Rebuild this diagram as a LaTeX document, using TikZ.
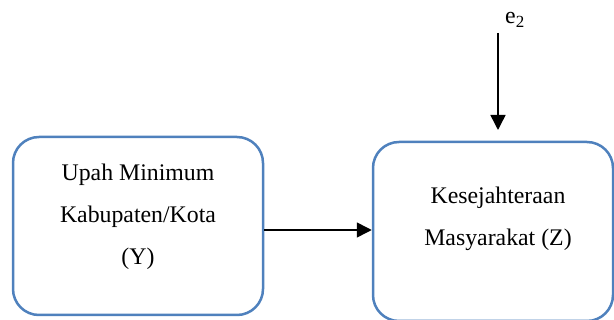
\documentclass[tikz,border=0pt]{standalone}
\usepackage{fontspec}
\setmainfont{Liberation Serif}
\usetikzlibrary{arrows.meta}
\definecolor{boxblue}{HTML}{4F81BD}
\tikzset{
  varbox/.style={draw=boxblue, line width=2.5pt, rounded corners=26pt, minimum height=178pt, inner sep=0pt},
  boxtext/.style={align=center, font=\fontsize{23.8}{42}\selectfont, inner sep=0pt},
  conn/.style={line width=1.5pt, -{Triangle[length=15pt,width=15pt]}}
}
\begin{document}
\begin{tikzpicture}[x=1pt,y=-1pt]
\useasboundingbox (0,0) rectangle (614,320);
\clip (0,0) rectangle (614,320);
\node[varbox, minimum width=250pt] (y) at (138,226) {};
\node[varbox, minimum width=240pt, minimum height=179pt] (z) at (493,231.5) {};
\node[boxtext] (ytxt) at (138,217) {Upah Minimum\\Kabupaten/Kota\\(Y)};
\node[boxtext] (ztxt) at (498,219) {Kesejahteraan\\Masyarakat (Z)};
\node[font=\fontsize{23.8}{28}\selectfont, inner sep=0pt, anchor=base west] (e) at (505,24) {e\raisebox{-3.5pt}{\fontsize{17}{17}\selectfont 2}};
\coordinate (etop) at (498,33);
\coordinate (ztop) at (498,130);
\draw[conn] (etop) -- (ztop);
\draw[conn] (y.east |- 0,230) -- (z.west |- 0,230);
\end{tikzpicture}
\end{document}
